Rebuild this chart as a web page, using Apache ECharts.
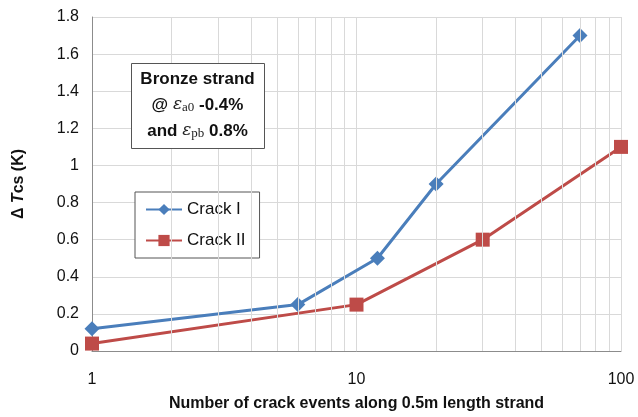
<!DOCTYPE html>
<html>
<head>
<meta charset="utf-8">
<script src="https://cdn.jsdelivr.net/npm/echarts@6/dist/echarts.min.js"></script>
<style>
  html, body { margin: 0; padding: 0; background: #fff; }
  #chart { width: 638px; height: 417px; }
</style>
</head>
<body>
<div id="chart"></div>
<script>
// Crack events (x, log scale) vs. change in current sharing temperature (y)
const crackIEvents = [1, 6, 12, 20, 70];
const crackIDeltaTcs = [0.12, 0.25, 0.5, 0.9, 1.7];
const crackIIEvents = [1, 10, 30, 100];
const crackIIDeltaTcs = [0.04, 0.25, 0.6, 1.1];
const seriesNames = ['Crack I', 'Crack II'];
// Intermediate gridlines of the logarithmic x axis
const minorGridX = [2, 3, 4, 5, 6, 7, 8, 9, 20, 30, 40, 50, 60, 70, 80, 90];

const FONT = '"Liberation Sans", Arial, sans-serif';
const GRID = '#d9d9d9';
const DIAMOND = 'path://M10,0L20,10L10,20L0,10Z';

const chart = echarts.init(document.getElementById('chart'), null, { renderer: 'canvas' });

const pairs = (xs, ys) => xs.map((x, i) => [x, ys[i]]);

chart.setOption({
  animation: false,
  backgroundColor: '#fff',
  textStyle: { fontFamily: FONT },
  grid: { left: 92, right: 17, top: 17, bottom: 65 },
  xAxis: {
    type: 'log',
    logBase: 10,
    min: 1,
    max: 100,
    name: 'Number of crack events along 0.5m length strand',
    nameLocation: 'middle',
    nameGap: 45,
    nameTextStyle: { fontFamily: FONT, fontSize: 16, fontWeight: 'bold', color: '#111' },
    axisLine: { show: true, lineStyle: { color: '#8c8c8c', width: 1 } },
    axisTick: { show: false },
    axisLabel: { fontSize: 16, color: '#111', margin: 21, fontFamily: FONT },
    splitLine: { show: true, lineStyle: { color: GRID, width: 1 } }
  },
  yAxis: {
    type: 'value',
    min: 0,
    max: 1.8,
    interval: 0.2,
    name: '{d|\u0394 }{t|T}{d|cs (K)}',
    nameLocation: 'middle',
    nameGap: 65,
    nameRotate: 90,
    nameTextStyle: {
      color: '#111',
      rich: {
        d: { fontFamily: FONT, fontSize: 16, fontWeight: 'bold', color: '#111' },
        t: { fontFamily: FONT, fontSize: 16, fontWeight: 'bold', fontStyle: 'italic', color: '#111' }
      }
    },
    axisLine: { show: true, lineStyle: { color: '#8c8c8c', width: 1 } },
    axisTick: { show: false },
    axisLabel: { fontSize: 16, color: '#111', margin: 13, fontFamily: FONT },
    splitLine: { show: true, lineStyle: { color: GRID, width: 1 } }
  },
  legend: {
    data: seriesNames,
    orient: 'vertical',
    left: 135,
    top: 192,
    padding: [9, 14, 9, 10],
    itemGap: 14,
    itemWidth: 36,
    itemHeight: 14,
    backgroundColor: '#fff',
    borderColor: '#555',
    borderWidth: 1,
    borderRadius: 0,
    textStyle: { fontFamily: FONT, fontSize: 17, color: '#111' }
  },
  series: [
    {
      name: 'minor-grid',
      type: 'line',
      data: [],
      silent: true,
      z: 1,
      markLine: {
        silent: true,
        symbol: 'none',
        animation: false,
        label: { show: false },
        lineStyle: { color: GRID, width: 1, type: 'solid' },
        emphasis: { disabled: true },
        data: minorGridX.map(v => ({ xAxis: v }))
      }
    },
    {
      name: seriesNames[0],
      type: 'line',
      data: pairs(crackIEvents, crackIDeltaTcs),
      z: 3,
      symbol: DIAMOND,
      symbolSize: 15,
      lineStyle: { color: '#4a7ebb', width: 3 },
      itemStyle: { color: '#4a7ebb', borderWidth: 0 }
    },
    {
      name: seriesNames[1],
      type: 'line',
      data: pairs(crackIIEvents, crackIIDeltaTcs),
      z: 3,
      symbol: 'rect',
      symbolSize: 14,
      lineStyle: { color: '#be4b48', width: 3 },
      itemStyle: { color: '#be4b48', borderWidth: 0 }
    }
  ],
  graphic: [
    {
      type: 'rect',
      left: 131,
      top: 63,
      z: 10,
      shape: { width: 133, height: 85 },
      style: { fill: '#fff', stroke: '#555', lineWidth: 1 }
    },
    {
      type: 'text',
      z: 11,
      x: 197.5,
      y: 66,
      style: {
        text: '{b|Bronze strand}\n{b|@ }{e|\u03b5}{s|a0}{b| -0.4%}\n{b|and }{e|\u03b5}{s|pb}{b| 0.8%}',
        align: 'center',
        verticalAlign: 'top',
        lineHeight: 26,
        rich: {
          b: { fontFamily: FONT, fontSize: 17, fontWeight: 'bold', fill: '#111', lineHeight: 26 },
          e: { fontFamily: '"DejaVu Serif", "Liberation Serif", serif', fontSize: 17, fontStyle: 'italic', fill: '#222', lineHeight: 26 },
          s: { fontFamily: '"Liberation Serif", serif', fontSize: 13, fill: '#222', lineHeight: 26, padding: [6, 0, 0, 0] }
        }
      }
    }
  ]
});
</script>
</body>
</html>
